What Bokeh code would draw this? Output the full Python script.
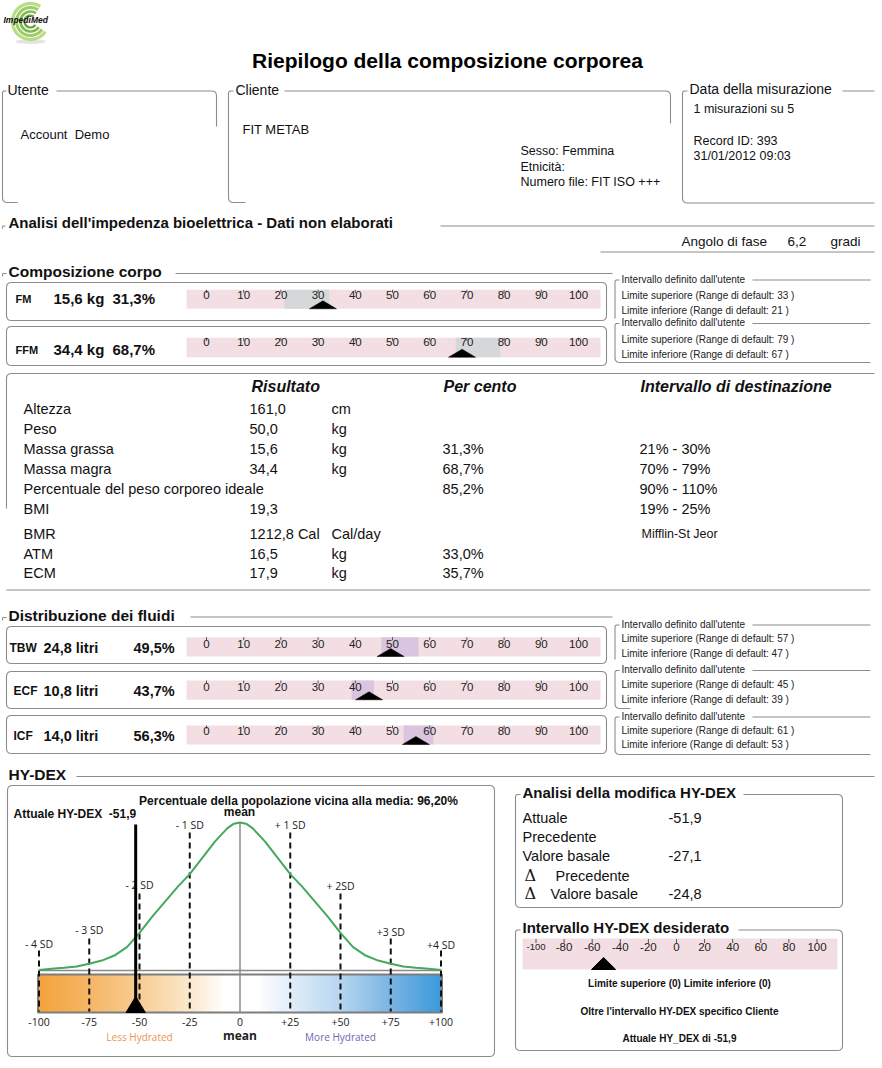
import numpy as np
from bokeh.plotting import figure
from bokeh.models import Range1d
from bokeh.core.properties import value
from bokeh.embed import file_html
from bokeh.resources import INLINE

FONT = "Liberation Sans"
IMG_FONT = "Open Sans"

# ---------------- data ----------------
report_title = "Riepilogo della composizione corporea"
user_label = "Utente"
user_name = "Account\u00a0\u00a0Demo"
client_label = "Cliente"
client_name = "FIT METAB"
client_details = ["Sesso: Femmina", "Etnicità:", "Numero file: FIT ISO +++"]
measure_label = "Data della misurazione"
measure_details = ["1 misurazioni su 5", "Record ID: 393", "31/01/2012 09:03"]
bia_title = "Analisi dell'impedenza bioelettrica - Dati non elaborati"
phase_texts = ["Angolo di fase", "6,2", "gradi"]

gauge_ticks = [0, 10, 20, 30, 40, 50, 60, 70, 80, 90, 100]
gauge_tick_labels = ["0", "10", "20", "30", "40", "50", "60", "70", "80", "90", "100"]

comp_title = "Composizione corpo"
comp_names = ["FM", "FFM"]
comp_mass = ["15,6 kg", "34,4 kg"]
comp_pct_text = ["31,3%", "68,7%"]
comp_pct = [31.3, 68.7]
comp_low = [21, 67]
comp_high = [33, 79]

fluid_title = "Distribuzione dei fluidi"
fluid_names = ["TBW", "ECF", "ICF"]
fluid_volume = ["24,8 litri", "10,8 litri", "14,0 litri"]
fluid_pct_text = ["49,5%", "43,7%", "56,3%"]
fluid_pct = [49.5, 43.7, 56.3]
fluid_low = [47, 39, 53]
fluid_high = [57, 45, 61]

range_box_title = "Intervallo definito dall'utente"

table_header = ["Risultato", "Per cento", "Intervallo di destinazione"]
table_names = ["Altezza", "Peso", "Massa grassa", "Massa magra",
               "Percentuale del peso corporeo ideale", "BMI", "BMR", "ATM", "ECM"]
table_results = ["161,0", "50,0", "15,6", "34,4", "", "19,3", "1212,8 Cal", "16,5", "17,9"]
table_units = ["cm", "kg", "kg", "kg", "", "", "Cal/day", "kg", "kg"]
table_pct = ["", "", "31,3%", "68,7%", "85,2%", "", "", "33,0%", "35,7%"]
table_target = ["", "", "21% - 30%", "70% - 79%", "90% - 110%", "19% - 25%", "", "", ""]
bmr_method = "Mifflin-St Jeor"

hydex_title = "HY-DEX"
hydex_current = -51.9
hydex_current_label = "Attuale HY-DEX\u00a0\u00a0-51,9"
hydex_population = "Percentuale della popolazione vicina alla media: 96,20%"
hydex_ticks = [-100, -75, -50, -25, 0, 25, 50, 75, 100]
hydex_tick_labels = ["-100", "-75", "-50", "-25", "0", "+25", "+50", "+75", "+100"]
sd_positions = [-100, -75, -50, -25, 25, 50, 75, 100]
sd_labels = ["- 4 SD", "- 3 SD", "- 2 SD", "- 1 SD", "+ 1 SD", "+ 2SD", "+3 SD", "+4 SD"]
curve_x = [-100, -93.75, -87.5, -81.25, -75, -68.75, -62.5, -56.25, -50, -43.75, -37.5,
           -31.25, -25, -18.75, -12.5, -6.25, -3, 0, 3, 6.25, 12.5, 18.75, 25, 31.25, 37.5,
           43.75, 50, 56.25, 62.5, 68.75, 75, 81.25, 87.5, 93.75, 100]
curve_y = [0, 0.8, 1.5, 2.4, 4.2, 6.4, 9.8, 15.5, 25.2, 36, 46, 56, 65, 76, 87, 96.2, 99.2,
           100, 99.2, 96.2, 87, 76, 65, 56, 46, 36, 25.2, 15.5, 9.8, 6.4, 4.2, 2.4, 1.5, 0.8, 0]

change_title = "Analisi della modifica HY-DEX"
change_labels = ["Attuale", "Precedente", "Valore basale"]
change_values = ["-51,9", "", "-27,1"]
delta_labels = ["Precedente", "Valore basale"]
delta_values = ["", "-24,8"]

desired_title = "Intervallo HY-DEX desiderato"
desired_ticks = [-100, -80, -60, -40, -20, 0, 20, 40, 60, 80, 100]
desired_tick_labels = ["-100", "-80", "-60", "-40", "-20", "0", "20", "40", "60", "80", "100"]
desired_notes = ["Limite superiore (0) Limite inferiore (0)",
                 "Oltre l'intervallo HY-DEX specifico Cliente",
                 "Attuale HY_DEX di -51,9"]

# ---------------- styles ----------------
BORDER = "#8c8c8c"
PINK = "#f3dfe3"
GREY_HL = "#d4d8d8"
LAV_HL = "#d9c5df"

W, H = 880, 1064
# page-pixel coordinates (y grows downward)
p = figure(width=W, height=H, x_range=Range1d(0, W), y_range=Range1d(H, 0),
           x_axis_type=None, y_axis_type=None, toolbar_location=None,
           output_backend="svg", min_border=0, outline_line_color=None,
           background_fill_color="white", border_fill_color="white")
p.grid.visible = False

# scales for the gauges
PCT0, PCTS = 206.0, 3.72
p.extra_x_ranges["pct"] = Range1d((0 - PCT0) / PCTS, (W - PCT0) / PCTS)
HY0, HYS = 239.5, 2.01
p.extra_x_ranges["hy"] = Range1d((0 - HY0) / HYS, (W - HY0) / HYS)
DEN0, DENS = 969.5, 1.475
p.extra_y_ranges["dens"] = Range1d((DEN0 - H) / DENS, (DEN0 - 0) / DENS)
HD0, HDS = 676.0, 1.405
p.extra_x_ranges["hyd"] = Range1d((0 - HD0) / HDS, (W - HD0) / HDS)


def txt(x, y, s, size="13px", style="normal", color="#111111", align="left",
        font=FONT, **kw):
    if not isinstance(x, (list, tuple)):
        x, y, s = [x], [y], [s]
    p.text(x=list(x), y=list(y), text=list(s), text_font=value(font),
           text_font_size=size, text_font_style=style, text_color=color,
           text_align=align, text_baseline="middle", **kw)


def rpath(pts, r=5, n=6):
    xs, ys = [pts[0][0]], [pts[0][1]]
    for i in range(1, len(pts) - 1):
        (x0, y0), (x1, y1), (x2, y2) = pts[i - 1], pts[i], pts[i + 1]
        d1 = np.hypot(x1 - x0, y1 - y0)
        d2 = np.hypot(x2 - x1, y2 - y1)
        rr = min(r, d1 / 2, d2 / 2)
        ax, ay = x1 - (x1 - x0) / d1 * rr, y1 - (y1 - y0) / d1 * rr
        bx, by = x1 + (x2 - x1) / d2 * rr, y1 + (y2 - y1) / d2 * rr
        for t in np.linspace(0, 1, n):
            xs.append((1 - t) ** 2 * ax + 2 * (1 - t) * t * x1 + t ** 2 * bx)
            ys.append((1 - t) ** 2 * ay + 2 * (1 - t) * t * y1 + t ** 2 * by)
    xs.append(pts[-1][0])
    ys.append(pts[-1][1])
    return xs, ys


def closed_box(x0, y0, x1, y1, xm=None):
    xm = (x0 + x1) / 2 if xm is None else xm
    return [(xm, y0), (x1, y0), (x1, y1), (x0, y1), (x0, y0), (xm + 1, y0)]


paths = [
    [(6, 90.5), (2, 90.5), (2, 202), (17, 202)],
    [(56, 90.5), (216, 90.5), (216, 126)],
    [(233, 90.5), (228, 90.5), (228, 202), (245, 202)],
    [(284, 90.5), (670, 90.5), (670, 123)],
    [(687, 90.5), (682, 90.5), (682, 202.5), (874, 202.5)],
    [(842, 90.5), (874, 90.5)],
    [(5, 225.5), (2, 225.5), (2, 228)],
    [(440, 225.5), (874, 225.5)],
    [(600, 251.5), (874, 251.5)],
    [(6, 273), (2, 273), (2, 276)],
    [(175, 273), (612, 273)],
    closed_box(6, 282, 606, 320),
    closed_box(6, 326, 606, 365),
    [(619, 279.5), (614.5, 279.5), (614.5, 318)],
    [(752, 279.5), (870, 279.5)],
    [(619, 323), (614.5, 323), (614.5, 362), (870, 362)],
    [(752, 323), (870, 323)],
    [(874, 373), (6, 373), (6, 508)],
    [(6, 589.5), (870, 589.5)],
    [(6, 617), (2, 617), (2, 620)],
    [(190, 616.5), (612, 616.5)],
    closed_box(6, 626, 606, 663),
    closed_box(6, 671, 606, 708),
    closed_box(6, 715, 606, 753),
    [(619, 624.5), (614.5, 624.5), (614.5, 659)],
    [(752, 624.5), (870, 624.5)],
    [(619, 670), (614.5, 670), (614.5, 708), (630, 708)],
    [(752, 670), (870, 670)],
    [(619, 716.5), (614.5, 716.5), (614.5, 754), (870, 754)],
    [(752, 716.5), (870, 716.5)],
    [(76, 776), (874, 776)],
    closed_box(7, 785, 494, 1056),
    [(520, 794), (515, 794), (515, 907), (842, 907), (842, 794), (743, 794)],
    [(520, 929.5), (515, 929.5), (515, 1050), (842, 1050), (842, 929.5), (738, 929.5)],
]
pxs, pys = zip(*[rpath(pt) for pt in paths])
p.multi_line(xs=list(pxs), ys=list(pys), line_color=BORDER, line_width=1.1)

# ---------------- logo ----------------
p.ellipse(x=[30], y=[41], width=30, height=5, fill_color="#e4e4e4", line_color=None)
for r, c, w in [(18, "#b5da80", 3.2), (14, "#98c95a", 3.0), (10, "#7cb544", 2.6), (6, "#5f9c32", 2.2)]:
    p.arc(x=[30], y=[21], radius=r, start_angle=1.0, end_angle=2 * np.pi - 0.6,
          direction="anticlock", line_color=c, line_width=w, line_alpha=0.95)
txt(3, 19, "ImpediMed", size="8.5px", style="bold italic", color="#111111")

# ---------------- header ----------------
txt(447, 60, report_title, size="21px", style="bold", align="center", color="#000000")
txt(7, 89, user_label, size="14px")
txt(235, 89, client_label, size="14px")
txt(689, 88, measure_label, size="14px")
txt(20, 134, user_name, size="13px")
txt(242, 129, client_name, size="13px")
txt([520] * 3, [150, 166, 181], client_details, size="12.5px")
txt([693] * 3, [108, 140, 155], measure_details, size="12.5px")
txt(8, 222, bia_title, size="15px", style="bold")
txt([681, 787, 830], [241, 241, 241], phase_texts, size="13.5px")

# ---------------- gauges ----------------
def gauge_row(bar_top, bar_bot, tick_y, val, lo, hi, hl):
    p.quad(left=[186], right=[600], top=[bar_top], bottom=[bar_bot], fill_color=PINK, line_color=None)
    p.quad(left=[lo], right=[hi], top=[bar_top], bottom=[bar_bot], fill_color=hl,
           line_color=None, x_range_name="pct")
    p.segment(x0=gauge_ticks, x1=gauge_ticks, y0=[bar_top] * 11, y1=[bar_top + 3] * 11,
              line_color="#555555", line_width=1, x_range_name="pct")
    p.text(x=gauge_ticks, y=[tick_y] * 11, text=gauge_tick_labels, text_font=value(FONT),
           text_font_size="11.5px", text_color="#222222", text_align="center",
           text_baseline="middle", x_range_name="pct")
    p.patches(xs=[[val - 3.63, val + 3.63, val]], ys=[[bar_bot, bar_bot, bar_bot - 8]],
              fill_color="black", line_color="black", line_width=0.5, x_range_name="pct")


txt(8, 271, comp_title, size="15.5px", style="bold")
comp_geo = [(289.3, 308.3, 294, 298), (337.3, 356.7, 341, 349)]
for i, (bt, bb, ty, ry) in enumerate(comp_geo):
    gauge_row(bt, bb, ty, comp_pct[i], comp_low[i], comp_high[i], GREY_HL)
    txt(15, ry, comp_names[i], size="11px", style="bold")
    txt(53, ry, comp_mass[i], size="15px", style="bold")
    txt(112, ry, comp_pct_text[i], size="15px", style="bold")

txt(8, 615, fluid_title, size="15.5px", style="bold")
fluid_geo = [(636.7, 656, 643.3, 647, 9), (680, 699.3, 686, 690, 13), (725, 744, 730.7, 735, 13)]
for i, (bt, bb, ty, ry, nx) in enumerate(fluid_geo):
    gauge_row(bt, bb, ty, fluid_pct[i], fluid_low[i], fluid_high[i], LAV_HL)
    txt(nx, ry, fluid_names[i], size="12px", style="bold")
    txt(43, ry, fluid_volume[i], size="14.5px", style="bold")
    txt(133, ry, fluid_pct_text[i], size="14.5px", style="bold")

# user range side boxes
box_tops = [278.5, 322, 623.5, 669, 715.5]
box_rows = [(295, 309.5), (339, 353.5), (638, 653), (684, 698.5), (729.5, 744)]
box_hi = [comp_high[0], comp_high[1], fluid_high[0], fluid_high[1], fluid_high[2]]
box_lo = [comp_low[0], comp_low[1], fluid_low[0], fluid_low[1], fluid_low[2]]
for t, (r1, r2), hi, lo in zip(box_tops, box_rows, box_hi, box_lo):
    txt(621, t, range_box_title, size="10px", color="#222222")
    txt(621, r1, "Limite superiore (Range di default: %d )" % hi, size="10px", color="#222222")
    txt(621, r2, "Limite inferiore (Range di default: %d )" % lo, size="10px", color="#222222")

# ---------------- results table ----------------
txt([251, 443, 640], [386, 386, 386], table_header, size="16px", style="bold italic")
row_y = [408, 428, 448, 468, 488, 508, 533, 553, 572]
txt([23] * 9, row_y, table_names, size="14.5px")
txt([249] * 9, row_y, table_results, size="14.5px")
txt([331] * 9, row_y, table_units, size="14.5px")
txt([442] * 9, row_y, table_pct, size="14.5px")
txt([639] * 9, row_y, table_target, size="14.5px")
txt(641, row_y[6], bmr_method, size="12.5px")

# ---------------- HY-DEX ----------------
txt(8, 774, hydex_title, size="15.5px", style="bold")
txt(298, 800, hydex_population, size="12px", style="bold", align="center")
txt(13, 813, hydex_current_label, size="12px", style="bold")
txt(239, 811, "mean", size="12px", style="bold", align="center")

stops_v = [-100, -75, -50, -25, -8, 8, 25, 50, 75, 100]
stops_c = [(243, 163, 60), (245, 181, 102), (248, 205, 148), (251, 232, 203), (255, 255, 255),
           (255, 255, 255), (226, 238, 249), (182, 213, 240), (122, 180, 227), (58, 154, 219)]
edges = np.linspace(-100, 100, 161)
mids = (edges[:-1] + edges[1:]) / 2
cols = []
for m in mids:
    rgb = [int(round(np.interp(m, stops_v, [c[k] for c in stops_c]))) for k in range(3)]
    cols.append("#%02x%02x%02x" % tuple(rgb))
p.quad(left=edges[:-1], right=edges[1:] + 0.4, top=[974] * 160, bottom=[1012] * 160,
       fill_color=cols, line_color=None, x_range_name="hy")
p.quad(left=[-100.5], right=[100.5], top=[974], bottom=[1012], fill_color=None,
       line_color="#7d7d7d", line_width=2, x_range_name="hy")
p.segment(x0=[-100], x1=[100], y0=[970], y1=[970], line_color="#8a8a8a", line_width=1.5,
          x_range_name="hy")
p.segment(x0=[0], x1=[0], y0=[822], y1=[1012], line_color="#8a8a8a", line_width=1.5,
          x_range_name="hy")

sd_top = [950, 938, 893, 832, 832, 893, 938, 950]
sd_label_y = [943, 929, 884, 824, 824, 885, 931, 944]
p.segment(x0=sd_positions, x1=sd_positions, y0=sd_top, y1=[1011] * 8, line_color="#111111",
          line_width=2, line_dash="6 4", x_range_name="hy")
p.text(x=sd_positions, y=sd_label_y, text=sd_labels, text_font=value(IMG_FONT),
       text_font_size="10.5px", text_color="#222222", text_align="center",
       text_baseline="middle", x_range_name="hy")
p.line(x=curve_x, y=curve_y, line_color="#45a85c", line_width=2,
       x_range_name="hy", y_range_name="dens")

p.segment(x0=[hydex_current], x1=[hydex_current], y0=[824], y1=[1000], line_color="black",
          line_width=3, x_range_name="hy")
p.patches(xs=[[hydex_current - 4.8, hydex_current + 4.8, hydex_current]],
          ys=[[1012, 1012, 996]], fill_color="black", line_color="black", x_range_name="hy")

p.text(x=hydex_ticks, y=[1021] * 9, text=hydex_tick_labels, text_font=value(IMG_FONT),
       text_font_size="10.5px", text_color="#222222", text_align="center",
       text_baseline="middle", x_range_name="hy")
p.text(x=[-50, 0, 50], y=[1036, 1035, 1036], text=["Less Hydrated", "mean", "More Hydrated"],
       text_font=value(IMG_FONT), text_font_size=["10px", "12px", "10px"],
       text_font_style=["normal", "bold", "normal"],
       text_color=["#e99556", "#222222", "#6f68b3"], text_align="center",
       text_baseline="middle", x_range_name="hy")

# change analysis
txt(522, 792, change_title, size="15px", style="bold")
txt([522] * 3, [817, 836, 855], change_labels, size="14.5px")
txt([668] * 3, [817, 836, 855], change_values, size="14.5px")
txt([524, 524], [875, 893], ["\u0394", "\u0394"], size="16px", font="DejaVu Serif")
txt([555, 550], [875, 893], delta_labels, size="14.5px")
txt([668, 668], [875, 893], delta_values, size="14.5px")

# desired range
txt(522, 927, desired_title, size="15px", style="bold")
p.quad(left=[522], right=[837], top=[938], bottom=[969], fill_color=PINK, line_color=None)
p.segment(x0=desired_ticks, x1=desired_ticks, y0=[938.5] * 11, y1=[942.5] * 11,
          line_color="#555555", line_width=1, x_range_name="hyd")
p.text(x=desired_ticks, y=[946] * 11, text=desired_tick_labels, text_font=value(FONT),
       text_font_size=["9.5px"] + ["11.5px"] * 10, text_color="#222222",
       text_align="center", text_baseline="middle", x_range_name="hyd")
p.patches(xs=[[hydex_current - 8.6, hydex_current + 8.6, hydex_current]],
          ys=[[969, 969, 957]], fill_color="black", line_color="black", x_range_name="hyd")
txt([679] * 3, [983, 1011, 1038], desired_notes, size="10px", style="bold", align="center")

open("out.html", "w").write(file_html(p, INLINE))
